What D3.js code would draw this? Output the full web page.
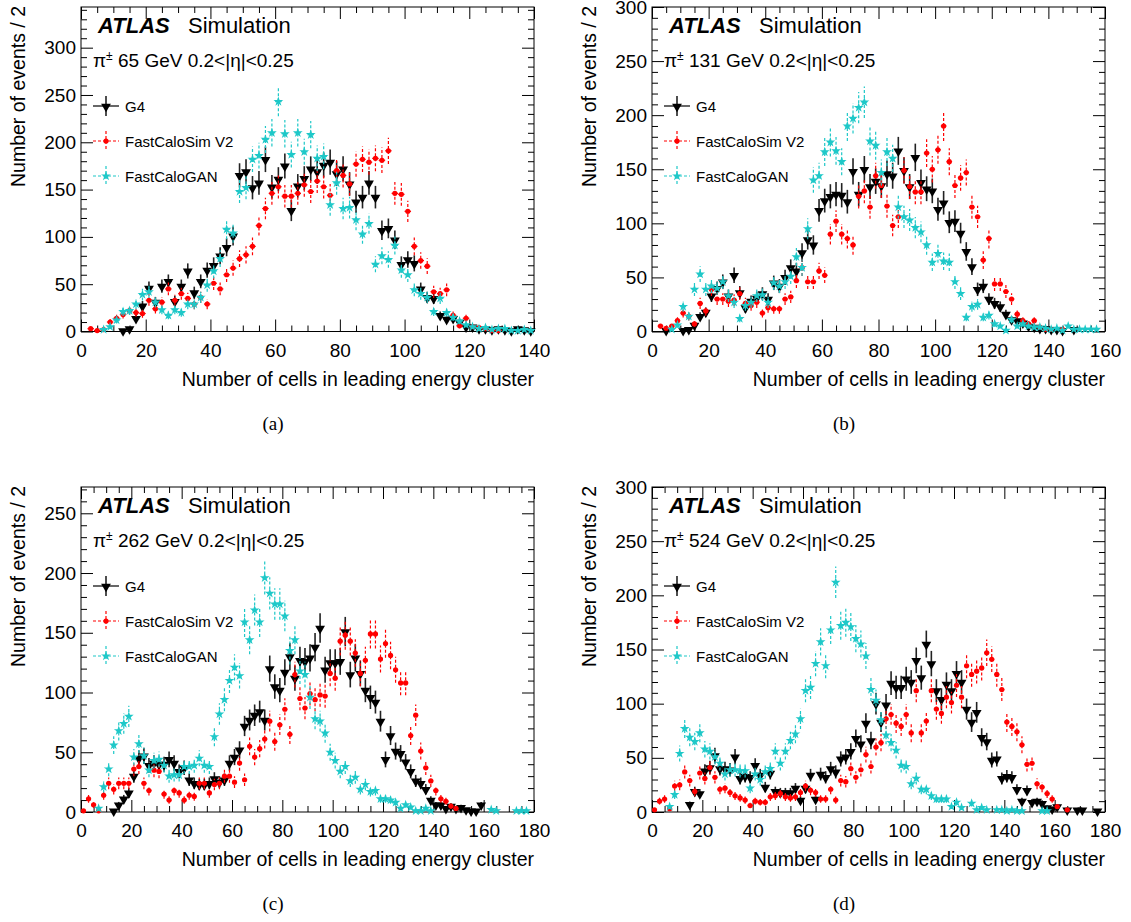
<!DOCTYPE html>
<html><head><meta charset="utf-8">
<script src="https://cdn.jsdelivr.net/npm/d3@7/dist/d3.min.js"></script>
<style>
body{margin:0;background:#fff}
svg{display:block}
text{font-family:"Liberation Sans",Arial,Helvetica,sans-serif;fill:#000}
</style>
</head><body>
<svg id="chart" width="1131" height="922"></svg>
<script>
// ---------------- DATA (bin width 2, bin i centred at 2*i+1) ----------------
const binWidth = 2;
const seriesNames = ["G4", "FastCaloSim V2", "FastCaloGAN"];
const energies = ["65", "131", "262", "524"];
const subLabels = ["(a)", "(b)", "(c)", "(d)"];
const xMax = [140, 160, 180, 180];
const yMax = [343, 300, 272, 300];
const yMajorTicks = [[0,50,100,150,200,250,300],[0,50,100,150,200,250,300],[0,50,100,150,200,250],[0,50,100,150,200,250,300]];

// (a) pi± 65 GeV
const g4A  = [null,null,null,null,null,null,1,3,14,27, 46,31,48,53,32,48,64,41,53,65, 70,80,89,101,165,169,152,157,182,153, 161,175,128,154,162,172,169,176,179,167, 172,156,137,142,157,142,107,109,97,71, 76,72,45,36,35,17,13,14,10,5, 5,3,3,2,3,2,1,3,2,1];
const fcsA = [null,3,1,2,10,14,18,22,20,19, 33,24,31,45,33,40,35,29,36,29, 51,45,60,67,77,81,90,112,130,146, 153,143,143,146,155,148,159,153,144,170, 165,156,177,182,179,183,181,191,146,145, 127,90,75,69,42,40,44,17,6,14, 5,4,3,1,1,null,null,null,null,null];
const ganA = [null,null,null,2,5,12,21,22,29,39, 42,31,23,17,23,20,29,29,36,49, 64,77,108,104,148,152,182,186,203,210, 243,209,187,210,190,208,183,185,134,157, 130,131,118,103,114,71,80,76,91,65, 60,44,40,36,21,35,20,15,11,7, 5,3,4,2,3,3,1,1,2,1];

// (b) pi± 131 GeV
const g4B  = [null,null,1,null,null,1,2,6,14,18, 33,40,46,33,52,36,22,28,31,35, 30,45,42,50,59,56,73,85,80,112, 121,125,127,126,120,148,127,150,134,139, 135,146,144,167,149,134,161,138,132,130, 113,119,101,102,91,74,60,39,42,30, 26,23,16,11,10,8,5,4,3,3, 2,2,1,null,2,null,null,null,null,null];
const fcsB = [null,5,3,5,10,17,14,7,26,19, 39,30,30,28,29,35,26,24,27,17, 22,21,21,30,32,47,59,46,46,56, 52,90,102,90,86,80,125,130,115,144, 135,116,98,106,149,134,129,129,165,150, 168,190,157,135,142,147,115,106,66,86, 44,44,37,30,16,10,7,10,4,2, 2,null,2,null,null,null,null,null,null,null];
const ganB = [null,null,null,2,6,23,14,39,53,39, 42,40,46,33,27,12,24,27,33,34, 27,45,42,46,51,69,59,95,140,144, 166,175,167,157,190,197,207,212,176,172, 147,166,160,115,106,103,96,92,80,64, 72,65,64,46,35,13,23,25,13,15, 7,5,1,11,5,7,5,4,4,3, 2,3,1,5,2,2,2,2,2,null];

// (c) pi± 262 GeV
const g4C  = [null,null,null,null,null,null,1,6,11,16, 30,45,47,39,41,40,40,44,41,34, 37,27,24,23,23,24,28,25,27,41, 46,52,72,77,81,84,77,120,105,102, 117,130,112,127,126,129,138,154,119,125, 125,126,151,115,129,116,102,96,92,76, 44,64,51,49,42,34,26,24,19,10, 6,6,3,5,3,4,2,1,1,6, null,null,null,null,null,null,null,null,null,null];
const fcsC = [1,11,6,1,14,24,19,24,24,24, 36,38,24,18,35,34,15,10,18,16, 10,14,13,24,24,16,23,24,30,30, 25,41,27,55,46,53,61,76,59,73, 86,65,115,95,87,99,94,98,97,116, 112,143,148,143,133,116,127,149,149,128, 141,131,119,108,108,64,81,51,37,26, 18,11,9,5,3,null,null,null,null,null, null,null,null,null,null,null,null,null,null,null];
const ganC = [null,null,null,3,21,36,56,68,74,80, 46,57,47,35,43,44,39,30,31,31, 38,38,39,45,39,38,63,82,94,110, 121,114,159,144,169,159,196,183,174,174, 164,135,144,118,115,96,78,76,66,50, 43,34,38,26,29,19,23,17,18,11, 11,10,8,3,6,4,1,1,3,1, null,null,null,null,null,null,null,null,null,null, null,2,1,null,null,null,1,1,1,null];

// (d) pi± 524 GeV
const g4D  = [null,null,null,null,null,null,null,7,19,17, 38,41,52,40,40,39,51,31,33,32, 43,34,23,36,19,18,18,18,22,11, 22,34,12,35,32,40,37,49,51,56, 68,63,82,66,100,83,99,119,115,115, 123,120,140,124,155,137,112,104,118,112, 128,120,95,83,92,69,65,48,49,31, 33,32,21,10,20,9,10,8,4,3, 5,null,2,null,2,2,null,null,1,null];
const fcsD = [2,10,12,3,24,25,37,29,19,36, 31,41,32,21,22,18,15,13,11,6, 10,9,9,14,15,17,14,13,14,18, 24,20,18,12,12,21,11,29,28,40, 32,39,53,42,60,64,86,90,82,79, 90,73,112,73,84,112,95,91,106,101, 117,106,135,127,130,133,147,141,127,113, 83,79,74,62,44,45,26,23,17,12, 5,null,2,null,null,null,null,null,null,null];
const ganD = [null,null,null,5,16,54,77,69,65,73, 58,56,51,45,35,39,39,38,38,22, 35,30,37,40,56,45,56,66,72,86, 112,115,137,157,135,168,212,172,175,171, 160,155,144,113,103,85,71,64,57,43, 42,26,31,21,21,15,12,12,12,5, 9,4,null,8,2,4,2,null,2,2, 1,2,1,1,null,null,null,1,1,null, null,null,null,null,null,null,null,null,null,null];

const panelData = [[g4A,fcsA,ganA],[g4B,fcsB,ganB],[g4C,fcsC,ganC],[g4D,fcsD,ganD]];

// ---------------- LAYOUT / STYLE ----------------
const geom = [
  {L:81,  R:534,  T:7,   B:331.5},
  {L:652, R:1105, T:7,   B:331.5},
  {L:81,  R:534,  T:487, B:812},
  {L:652, R:1105, T:487, B:812}
];
const colors = ["#000000", "#ff0000", "#1ec8c8"];
const svg = d3.select("#chart");

function drawPanel(p) {
  const g = geom[p];
  const x = d3.scaleLinear().domain([0, xMax[p]]).range([g.L, g.R]);
  const y = d3.scaleLinear().domain([0, yMax[p]]).range([g.B, g.T]);
  const root = svg.append("g");

  const xMajor = d3.range(0, xMax[p] + 0.1, 20);
  const xMinor = d3.range(0, xMax[p] + 0.1, 5).filter(v => v % 20 !== 0);
  const yMaj = yMajorTicks[p];
  const yMinor = d3.range(0, yMax[p], 10).filter(v => v % 50 !== 0);

  const MAJ = 12, MIN = 6;
  function styleAxis(sel) {
    sel.select(".domain").remove();
    sel.selectAll("line").attr("stroke", "#000").attr("stroke-width", 1);
    sel.selectAll("text").style("font-size", "19px").attr("fill", "#000");
  }
  // bottom
  root.append("g").attr("transform", `translate(0,${g.B})`)
    .call(d3.axisBottom(x).tickValues(xMajor).tickSize(-MAJ).tickPadding(7).tickFormat(d3.format("d")))
    .call(styleAxis).selectAll("text").attr("dy", "0.95em");
  root.append("g").attr("transform", `translate(0,${g.B})`)
    .call(d3.axisBottom(x).tickValues(xMinor).tickSize(-MIN).tickFormat(""))
    .call(styleAxis);
  // top
  root.append("g").attr("transform", `translate(0,${g.T})`)
    .call(d3.axisTop(x).tickValues(xMajor).tickSize(-MAJ).tickFormat(""))
    .call(styleAxis);
  root.append("g").attr("transform", `translate(0,${g.T})`)
    .call(d3.axisTop(x).tickValues(xMinor).tickSize(-MIN).tickFormat(""))
    .call(styleAxis);
  // left
  root.append("g").attr("transform", `translate(${g.L},0)`)
    .call(d3.axisLeft(y).tickValues(yMaj).tickSize(-MAJ).tickPadding(5).tickFormat(d3.format("d")))
    .call(styleAxis);
  root.append("g").attr("transform", `translate(${g.L},0)`)
    .call(d3.axisLeft(y).tickValues(yMinor).tickSize(-MIN).tickFormat(""))
    .call(styleAxis);
  // right
  root.append("g").attr("transform", `translate(${g.R},0)`)
    .call(d3.axisRight(y).tickValues(yMaj).tickSize(-MAJ).tickFormat(""))
    .call(styleAxis);
  root.append("g").attr("transform", `translate(${g.R},0)`)
    .call(d3.axisRight(y).tickValues(yMinor).tickSize(-MIN).tickFormat(""))
    .call(styleAxis);
  // frame
  root.append("rect").attr("x", g.L).attr("y", g.T).attr("width", g.R - g.L).attr("height", g.B - g.T)
    .attr("fill", "none").attr("stroke", "#000").attr("stroke-width", 1);

  // series
  const data = panelData[p];
  const tri = d3.symbol().type(d3.symbolTriangle).size(42)();
  const star = d3.symbol().type(d3.symbolStar).size(30)();
  data.forEach((vals, s) => {
    const pts = vals.map((v, i) => ({c: binWidth * i + binWidth / 2, v})).filter(d => d.v !== null && d.v > 0);
    const sg = root.append("g");
    const dash = s === 0 ? null : "3,2";
    const col = colors[s];
    // vertical errors (Poisson)
    sg.selectAll("line.ey").data(pts).join("line")
      .attr("x1", d => x(d.c)).attr("x2", d => x(d.c))
      .attr("y1", d => y(Math.max(0, d.v - Math.sqrt(d.v)))).attr("y2", d => y(Math.min(yMax[p], d.v + Math.sqrt(d.v))))
      .attr("stroke", s === 0 ? "#222" : col).attr("stroke-width", s === 0 ? 1.6 : 1.2)
      .attr("stroke-dasharray", dash);
    // horizontal (bin width)
    sg.selectAll("line.ex").data(pts).join("line")
      .attr("x1", d => x(d.c - binWidth / 2)).attr("x2", d => x(d.c + binWidth / 2))
      .attr("y1", d => y(d.v)).attr("y2", d => y(d.v))
      .attr("stroke", col).attr("stroke-width", 1.2);
    if (s === 0) {
      sg.selectAll("path.m").data(pts).join("path")
        .attr("d", tri).attr("fill", col)
        .attr("transform", d => `translate(${x(d.c)},${y(d.v) + 0.5}) rotate(180)`);
    } else if (s === 1) {
      sg.selectAll("circle.m").data(pts).join("circle")
        .attr("cx", d => x(d.c)).attr("cy", d => y(d.v)).attr("r", 2.6).attr("fill", col);
    } else {
      sg.selectAll("path.m").data(pts).join("path")
        .attr("d", star).attr("fill", col)
        .attr("transform", d => `translate(${x(d.c)},${y(d.v)})`);
    }
  });

  // texts
  const t1 = root.append("text").attr("x", g.L + 17).attr("y", g.T + 26).style("font-size", "22px");
  t1.append("tspan").style("font-weight", "bold").style("font-style", "italic").text("ATLAS");
  root.append("text").attr("x", g.L + 107).attr("y", g.T + 26).style("font-size", "22px").text("Simulation");
  const t2 = root.append("text").attr("x", g.L + 12).attr("y", g.T + 60).style("font-size", "19px");
  t2.append("tspan").text("π");
  t2.append("tspan").attr("dy", -7).style("font-size", "12px").text("±");
  t2.append("tspan").attr("dy", 7).text(" " + energies[p] + " GeV 0.2<|η|<0.25");

  // legend
  seriesNames.forEach((name, s) => {
    const cy = g.T + 99 + 35 * s;
    const lx = g.L + 25;
    const dash = s === 0 ? null : "3,2";
    root.append("line").attr("x1", g.L + 12).attr("x2", g.L + 38).attr("y1", cy).attr("y2", cy)
      .attr("stroke", colors[s]).attr("stroke-width", 1.2).attr("stroke-dasharray", dash);
    root.append("line").attr("x1", lx).attr("x2", lx).attr("y1", cy - 10).attr("y2", cy + 10)
      .attr("stroke", s === 0 ? "#222" : colors[s]).attr("stroke-width", s === 0 ? 1.6 : 1.2).attr("stroke-dasharray", dash);
    if (s === 0) root.append("path").attr("d", tri).attr("fill", colors[s]).attr("transform", `translate(${lx},${cy + 0.5}) rotate(180)`);
    else if (s === 1) root.append("circle").attr("cx", lx).attr("cy", cy).attr("r", 2.6).attr("fill", colors[s]);
    else root.append("path").attr("d", star).attr("fill", colors[s]).attr("transform", `translate(${lx},${cy})`);
    root.append("text").attr("x", g.L + 44).attr("y", cy + 5.5).style("font-size", "15px").text(name);
  });

  // axis titles
  root.append("text").attr("transform", `translate(${g.L - 56},${g.T - 1}) rotate(-90)`)
    .attr("text-anchor", "end").style("font-size", "19.5px").text("Number of events / 2");
  root.append("text").attr("x", g.R).attr("y", g.B + 54).attr("text-anchor", "end")
    .style("font-size", "19.5px").text("Number of cells in leading energy cluster");
  root.append("text").attr("x", g.L + 192).attr("y", g.B + 98).attr("text-anchor", "middle")
    .style("font-family", "'Liberation Serif','Times New Roman',serif").style("font-size", "19px").text(subLabels[p]);
}

for (let p = 0; p < 4; p++) drawPanel(p);
</script>
</body></html>
